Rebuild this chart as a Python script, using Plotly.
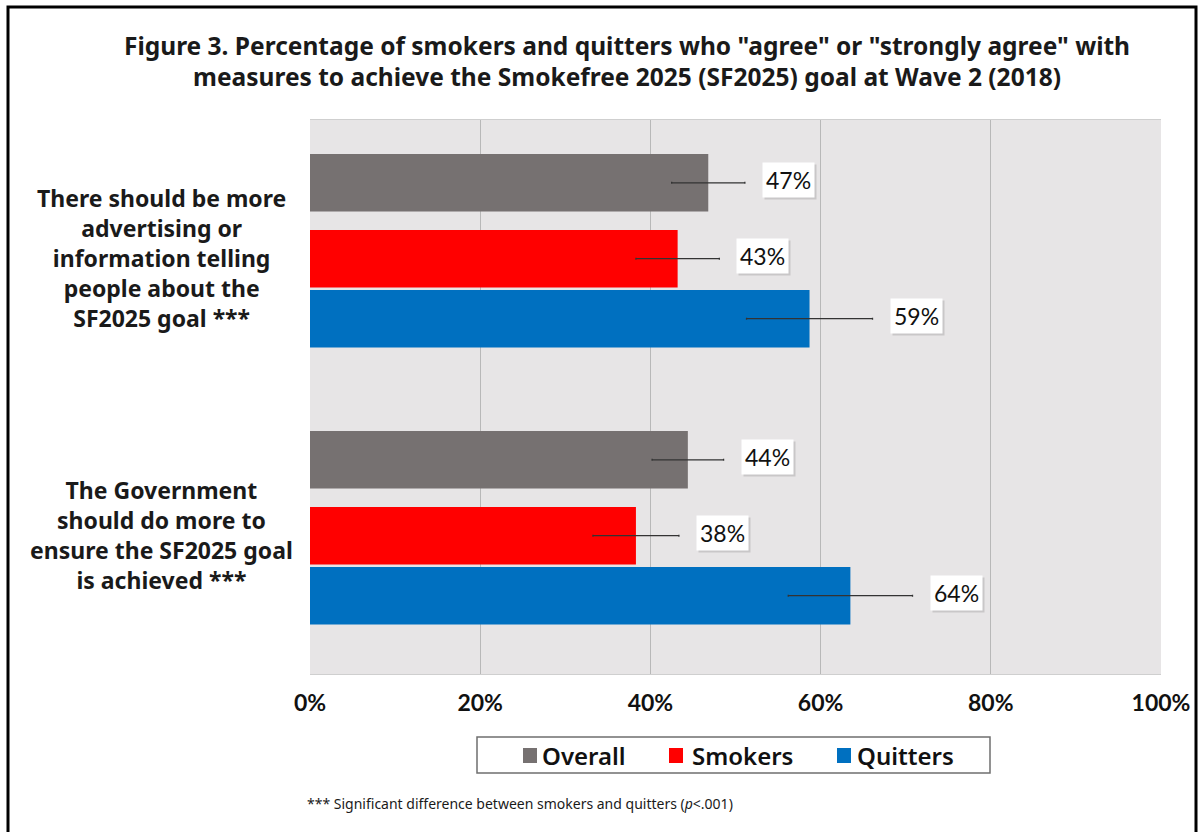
import plotly.graph_objects as go

# ---------------- data ----------------
categories = [
    "There should be more<br>advertising or<br>information telling<br>people about the<br>SF2025 goal ***",
    "The Government<br>should do more to<br>ensure the SF2025 goal<br>is achieved ***",
]
series_names = ["Overall", "Smokers", "Quitters"]
overall = [46.8, 44.4]
smokers = [43.2, 38.3]
quitters = [58.7, 63.5]
overall_err = [4.3, 4.2]
smokers_err = [4.9, 5.05]
quitters_err = [7.4, 7.3]
x_ticks = [0, 20, 40, 60, 80, 100]
x_tick_labels = ["0%", "20%", "40%", "60%", "80%", "100%"]
title_text = ('Figure 3. Percentage of smokers and quitters who "agree" or "strongly agree" with<br>'
              'measures to achieve the Smokefree 2025 (SF2025) goal at Wave 2 (2018)')
footnote = "*** Significant difference between smokers and quitters (<i>p</i>&lt;.001)"

# ---------------- style ----------------
colors = ["#767171", "#FF0000", "#0070C0"]
offsets = [-0.348, -0.074, 0.1426]
bar_w = 0.2076
TITLE_FONT = "Noto Sans"
NUM_FONT = "Lato"

# pixel helpers for layout decorations (plot area: x 310..1161, y 120..674)
def px_x(px):
    return (px - 310) / 851

def px_y(py):
    return (674 - py) / 554

values = [overall, smokers, quitters]
errors = [overall_err, smokers_err, quitters_err]
cat_idx = list(range(len(categories)))

fig = go.Figure()
for name, vals, errs, col, off in zip(series_names, values, errors, colors, offsets):
    fig.add_trace(go.Bar(
        name=name, orientation="h",
        x=vals, y=cat_idx,
        offset=off, width=bar_w,
        marker=dict(color=col, line=dict(width=0)),
        error_x=dict(type="data", array=errs, visible=True,
                     color="#333333", thickness=1.3, width=1),
        showlegend=False,
    ))
    # value labels (with soft shadow)
    for i, (v, e) in enumerate(zip(vals, errs)):
        lbl = f"{round(v)}%"
        fig.add_annotation(
            x=v + e, y=i + off + bar_w / 2, xref="x", yref="y",
            text=lbl, showarrow=False,
            xanchor="left", yanchor="middle", xshift=19, yshift=1,
            font=dict(family=NUM_FONT, size=23, color="#c9c7c8"),
            bgcolor="#c9c7c8", borderpad=3,
        )
        fig.add_annotation(
            x=v + e, y=i + off + bar_w / 2, xref="x", yref="y",
            text=lbl, showarrow=False,
            xanchor="left", yanchor="middle", xshift=17, yshift=3,
            font=dict(family=NUM_FONT, size=23, color="#111111"),
            bgcolor="white", borderpad=3,
        )

# category labels (centered, multi-line)
for i, c in enumerate(categories):
    fig.add_annotation(
        x=-0.174, y=i, xref="paper", yref="y",
        text=c, showarrow=False, xanchor="center", yanchor="middle",
        yshift=-8, align="center",
        font=dict(family=TITLE_FONT, size=23, color="#1a1a1a", weight="bold"),
    )

# legend (manual)
fig.add_shape(type="rect", xref="paper", yref="paper",
              x0=px_x(477), x1=px_x(990), y0=px_y(773), y1=px_y(737),
              line=dict(color="#6f6f6f", width=1.5), fillcolor="white", layer="below")
legend_sq = [523, 669, 837]    # px positions of the squares
legend_txt = [540, 690, 855]   # px positions of the text
for name, col, sx, tx in zip(series_names, colors, legend_sq, legend_txt):
    fig.add_shape(type="rect", xref="paper", yref="paper",
                  x0=px_x(sx), x1=px_x(sx + 14), y0=px_y(763), y1=px_y(748),
                  line=dict(width=0), fillcolor=col)
    fig.add_annotation(
        x=px_x(tx), y=px_y(755), xref="paper", yref="paper",
        text=name, showarrow=False, xanchor="left", yanchor="middle",
        font=dict(family=TITLE_FONT, size=24, color="#111111", weight=600),
    )

# footnote
fig.add_annotation(
    x=px_x(305), y=px_y(803), xref="paper", yref="paper",
    text=footnote, showarrow=False, xanchor="left", yanchor="middle",
    font=dict(family=TITLE_FONT, size=14, color="#1a1a1a"),
)

# outer border
fig.add_shape(type="rect", xref="paper", yref="paper",
              x0=px_x(8), x1=px_x(1196), y0=px_y(845), y1=px_y(7),
              line=dict(color="black", width=3), fillcolor="rgba(0,0,0,0)")

fig.update_layout(
    width=1203, height=832,
    margin=dict(l=310, r=42, t=120, b=158),
    paper_bgcolor="white", plot_bgcolor="#E7E5E6",
    barmode="overlay",
    title=dict(text=title_text, x=627 / 1203, y=1 - 54.5 / 832,
               xanchor="center", yanchor="middle", xref="container", yref="container",
               font=dict(family=TITLE_FONT, size=24.5, color="#1a1a1a", weight="bold")),
    xaxis=dict(range=[0, 100], tickvals=x_ticks, ticktext=x_tick_labels,
               showgrid=True, gridcolor="#B8B8B8", gridwidth=1, zeroline=False,
               showline=True, linecolor="#CFCFCF", linewidth=1, mirror=True,
               ticks="", ticklabelstandoff=8,
               tickfont=dict(family=NUM_FONT, size=23, color="#111111", weight="bold")),
    yaxis=dict(range=[1.529, -0.471], showticklabels=False, showgrid=False,
               zeroline=False, ticks="", showline=False),
)

fig.write_html("out.html")
